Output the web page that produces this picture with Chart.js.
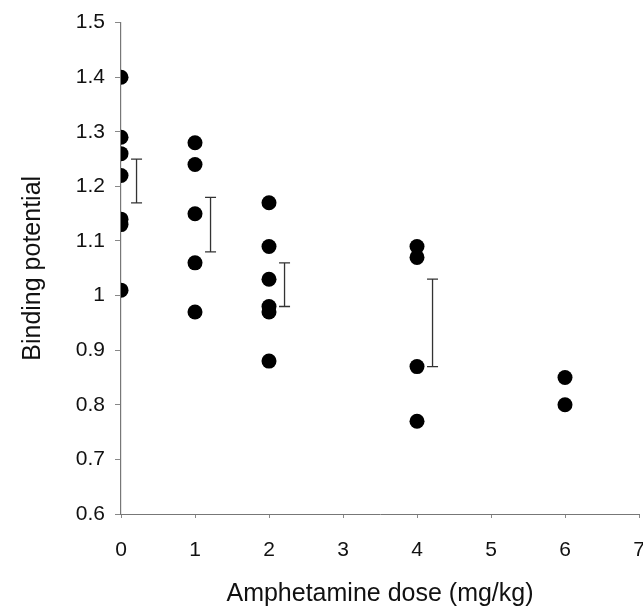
<!DOCTYPE html>
<html>
<head>
<meta charset="utf-8">
<script src="https://cdn.jsdelivr.net/npm/chart.js@4/dist/chart.umd.min.js"></script>
<style>
  body { margin: 0; background: #fff; }
  #wrap { width: 643px; height: 607px; }
</style>
</head>
<body>
<div id="wrap"><canvas id="bpChart" width="643" height="607"></canvas></div>
<script>
// amphetamine dose groups (mg/kg) and individual binding potentials
const doses = [0, 1, 2, 4, 6];
const bpDose0 = [1.40, 1.29, 1.26, 1.22, 1.14, 1.13, 1.01];
const bpDose1 = [1.28, 1.24, 1.15, 1.06, 0.97];
const bpDose2 = [1.17, 1.09, 1.03, 0.98, 0.97, 0.88];
const bpDose4 = [1.09, 1.07, 0.87, 0.77];
const bpDose6 = [0.85, 0.80];

// error bars drawn just right of each group
const errX = [0.21, 1.21, 2.21, 4.21];
const errLow = [1.17, 1.08, 0.98, 0.87];
const errHigh = [1.25, 1.18, 1.06, 1.03];

const xTicks = [0, 1, 2, 3, 4, 5, 6, 7];
const yTicks = [0.6, 0.7, 0.8, 0.9, 1.0, 1.1, 1.2, 1.3, 1.4, 1.5];

const groups = [bpDose0, bpDose1, bpDose2, bpDose4, bpDose6];
const points = [];
groups.forEach((vals, i) => {
  vals.forEach(v => points.push({ x: doses[i], y: v }));
});

const errorBars = {
  id: "errorBars",
  afterDatasetsDraw(chart) {
    const { ctx, scales: { x, y } } = chart;
    ctx.save();
    ctx.strokeStyle = "#333";
    ctx.lineWidth = 1.3;
    errX.forEach((ex, i) => {
      const px = x.getPixelForValue(ex);
      const top = y.getPixelForValue(errHigh[i]);
      const bot = y.getPixelForValue(errLow[i]);
      ctx.beginPath();
      ctx.moveTo(px, top); ctx.lineTo(px, bot);
      ctx.moveTo(px - 5.5, top); ctx.lineTo(px + 5.5, top);
      ctx.moveTo(px - 5.5, bot); ctx.lineTo(px + 5.5, bot);
      ctx.stroke();
    });
    ctx.restore();
  }
};

const tickFont = { family: "'Liberation Sans', Arial, sans-serif", size: 21 };
const titleFont = { family: "'Liberation Sans', Arial, sans-serif", size: 25 };

new Chart(document.getElementById("bpChart"), {
  type: "scatter",
  data: {
    datasets: [{
      data: points,
      backgroundColor: "#000",
      borderWidth: 0,
      pointRadius: 7.5,
      pointHoverRadius: 7.5
    }]
  },
  options: {
    responsive: false,
    animation: false,
    layout: { autoPadding: false, padding: { left: 0, right: 4, top: 21, bottom: 0 } },
    plugins: { legend: { display: false }, tooltip: { enabled: false } },
    scales: {
      x: {
        type: "linear",
        min: xTicks[0],
        max: xTicks[xTicks.length - 1],
        afterBuildTicks: (s) => { s.ticks = xTicks.map(v => ({ value: v })); },
        afterFit: (s) => { s.height = 93; s.paddingLeft = 0; s.paddingRight = 0; },
        grid: { drawOnChartArea: false, tickLength: 4, color: "#888" },
        border: { color: "#777", width: 1 },
        ticks: { font: tickFont, color: "#111", padding: 20, maxRotation: 0 },
        title: { display: true, text: "Amphetamine dose (mg/kg)", font: titleFont, color: "#111", padding: { top: 0, bottom: -2 } }
      },
      y: {
        min: yTicks[0],
        max: yTicks[yTicks.length - 1],
        afterBuildTicks: (s) => { s.ticks = yTicks.map(v => ({ value: v })); },
        afterFit: (s) => { s.width = 121; },
        grid: { drawOnChartArea: false, tickLength: 6, color: "#888" },
        border: { color: "#777", width: 1.2 },
        ticks: { font: tickFont, color: "#111", padding: 10, callback: v => String(Number(v.toFixed(1))) },
        title: { display: true, text: "Binding potential", font: titleFont, color: "#111", padding: { top: 18, bottom: 0 } }
      }
    }
  },
  plugins: [errorBars]
});
</script>
</body>
</html>
